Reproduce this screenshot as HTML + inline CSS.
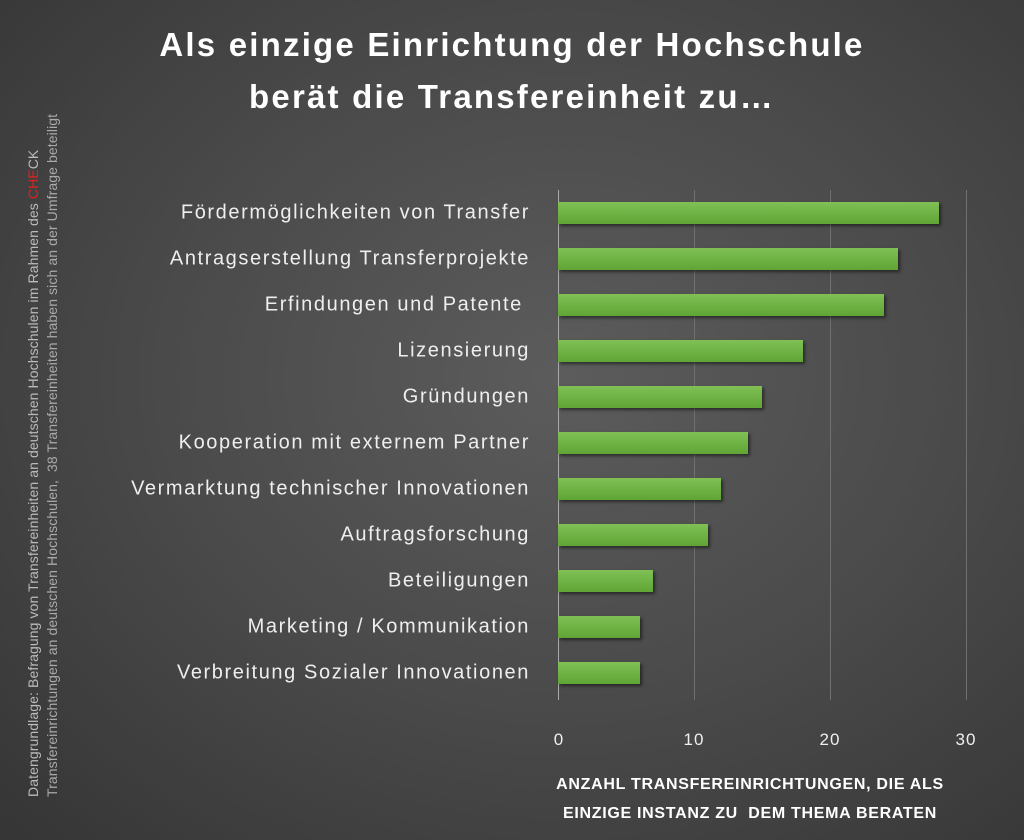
<!DOCTYPE html>
<html><head><meta charset="utf-8"><style>
body{margin:0;width:1024px;height:840px;overflow:hidden;background:radial-gradient(ellipse at 55% 45%,#5c5c5c 0%,#4a4a4a 50%,#353535 100%);font-family:"Liberation Sans",sans-serif;position:relative}
.t{position:absolute;left:0;width:1024px;text-align:center;color:#fff;font-weight:bold;font-size:33px;letter-spacing:2.2px}
.l{position:absolute;right:494px;color:#eee;font-size:20px;letter-spacing:1.6px;white-space:nowrap;transform:translateY(-50%)}
.b{position:absolute;left:558px;height:22px;background:linear-gradient(#80c055,#5fa535);box-shadow:2px 2px 3px rgba(0,0,0,.5);transform:translateY(-50%)}
.g{position:absolute;top:190px;height:510px;width:1px;background:#707070}
.k{position:absolute;top:730px;color:#eee;font-size:17px;letter-spacing:1px;transform:translateX(-50%)}
.v{position:absolute;left:0;top:0;transform-origin:0 0;transform:rotate(-90deg);white-space:nowrap;font-size:14px;letter-spacing:0.1px;color:#bbb}
</style></head><body>
<div class="t" style="top:26px">Als einzige Einrichtung der Hochschule</div>
<div class="t" style="top:78px">berät die Transfereinheit zu…</div>
<div class="g" style="left:558px;background:#aaa"></div>
<div class="g" style="left:694px"></div>
<div class="g" style="left:830px"></div>
<div class="g" style="left:966px"></div>
<div class="l" style="top:213px">Fördermöglichkeiten von Transfer</div>
<div class="l" style="top:259px">Antragserstellung Transferprojekte</div>
<div class="l" style="top:305px">Erfindungen und Patente&nbsp;</div>
<div class="l" style="top:351px">Lizensierung</div>
<div class="l" style="top:397px">Gründungen</div>
<div class="l" style="top:443px">Kooperation mit externem Partner</div>
<div class="l" style="top:489px">Vermarktung technischer Innovationen</div>
<div class="l" style="top:535px">Auftragsforschung</div>
<div class="l" style="top:581px">Beteiligungen</div>
<div class="l" style="top:627px">Marketing / Kommunikation</div>
<div class="l" style="top:673px">Verbreitung Sozialer Innovationen</div>
<div class="b" style="top:213px;width:381px"></div>
<div class="b" style="top:259px;width:340px"></div>
<div class="b" style="top:305px;width:326px"></div>
<div class="b" style="top:351px;width:245px"></div>
<div class="b" style="top:397px;width:204px"></div>
<div class="b" style="top:443px;width:190px"></div>
<div class="b" style="top:489px;width:163px"></div>
<div class="b" style="top:535px;width:150px"></div>
<div class="b" style="top:581px;width:95px"></div>
<div class="b" style="top:627px;width:82px"></div>
<div class="b" style="top:673px;width:82px"></div>
<div class="k" style="left:559px">0</div>
<div class="k" style="left:694px">10</div>
<div class="k" style="left:830px">20</div>
<div class="k" style="left:966px">30</div>
<div style="position:absolute;left:500px;width:500px;top:770px;text-align:center;color:#fff;font-weight:bold;font-size:16px;letter-spacing:0.7px;line-height:29px">ANZAHL TRANSFEREINRICHTUNGEN, DIE ALS<br>EINZIGE INSTANZ ZU &nbsp;DEM THEMA BERATEN</div>
<div class="v" style="left:25px;top:797px">Datengrundlage: Befragung von Transfereinheiten an deutschen Hochschulen im Rahmen des <span style="color:#e02020">CHE</span>CK</div>
<div class="v" style="left:44px;top:797px;color:#aaa">Transfereinrichtungen an deutschen Hochschulen, &nbsp;38 Transfereinheiten haben sich an der Umfrage beteiligt</div>
</body></html>
